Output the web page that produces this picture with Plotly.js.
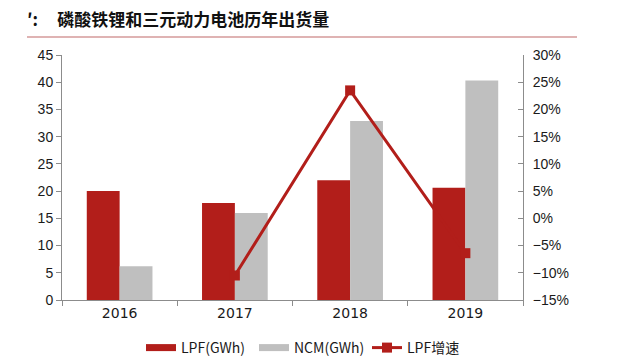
<!DOCTYPE html>
<html><head><meta charset="utf-8">
<script src="https://cdn.plot.ly/plotly-3.0.1.min.js"></script>
<style>html,body{margin:0;padding:0;background:#fff}#c{width:621px;height:364px}</style>
</head><body><div id="c"></div>
<script>
const years = ['2016','2017','2018','2019'];
const lpf = [20.0, 17.8, 22.0, 20.6];
const ncm = [6.2, 16.0, 32.9, 40.3];
const lpfGrowthYears = ['2017','2018','2019'];
const lpfGrowth = [-10.5, 23.5, -6.4];
const titleText = '′:\u00a0\u00a0\u00a0\u00a0\u00a0磷酸铁锂和三元动力电池历年出货量';
const legendNames = ['LPF(GWh)', 'NCM(GWh)', 'LPF增速'];

const RED = '#B21E1A', GREY = '#BFBFBF', AX = '#8c8c8c';
const traces = [
  {type:'bar', x:years, y:lpf, marker:{color:RED}, showlegend:false, yaxis:'y'},
  {type:'bar', x:years, y:ncm, marker:{color:GREY}, showlegend:false, yaxis:'y'},
  {type:'scatter', mode:'lines', x:[null], y:[null], name:legendNames[0], line:{color:RED, width:7}},
  {type:'scatter', mode:'lines', x:[null], y:[null], name:legendNames[1], line:{color:GREY, width:7}},
  {type:'scatter', mode:'lines+markers', x:lpfGrowthYears, y:lpfGrowth, name:legendNames[2], yaxis:'y2',
   line:{color:RED, width:3}, marker:{symbol:'square', size:10, color:RED}}
];
const tickfont = {family:'Liberation Sans, Arial, sans-serif', size:14, color:'#1a1a1a'};
const layout = {
  width:621, height:364,
  margin:{l:62, r:98, t:55, b:64},
  paper_bgcolor:'#fff', plot_bgcolor:'#fff',
  barmode:'group', bargap:0.43, bargroupgap:0,
  title:{text:titleText, x:27/621, xanchor:'left', xref:'container', y:1-20/364, yanchor:'middle', yref:'container',
    font:{family:'Noto Sans CJK SC, sans-serif', size:17, color:'#111', weight:700}},
  xaxis:{type:'category', showline:true, linecolor:AX, linewidth:1, ticks:'outside', tickson:'boundaries',
    tickcolor:AX, ticklen:5, tickfont:{family:'DejaVu Sans, sans-serif', size:14, color:'#1a1a1a'}, showgrid:false, zeroline:false},
  yaxis:{range:[0,45], dtick:5, showline:true, linecolor:AX, ticks:'outside', tickcolor:AX, ticklen:5,
    showgrid:false, zeroline:false, tickfont:tickfont},
  yaxis2:{range:[-15,30], dtick:5, overlaying:'y', side:'right', showline:true, linecolor:AX, ticks:'inside',
    tickcolor:AX, ticklen:5, showgrid:false, zeroline:false, ticksuffix:'%', tickfont:tickfont, ticklabelstandoff:6},
  legend:{orientation:'h', x:0.5, xanchor:'center', xref:'container', y:0, yanchor:'bottom', yref:'container',
    font:{family:'Noto Sans CJK SC, sans-serif', size:14, color:'#1a1a1a'}, itemwidth:30, entrywidth:68, traceorder:'normal'},
  shapes:[{type:'line', xref:'paper', yref:'paper', x0:(27-62)/461, x1:(577-62)/461, y0:(300-37)/245, y1:(300-37)/245,
    line:{color:'#d49a9a', width:1.5}}]
};
Plotly.newPlot('c', traces, layout, {displayModeBar:false, staticPlot:true});
</script></body></html>
